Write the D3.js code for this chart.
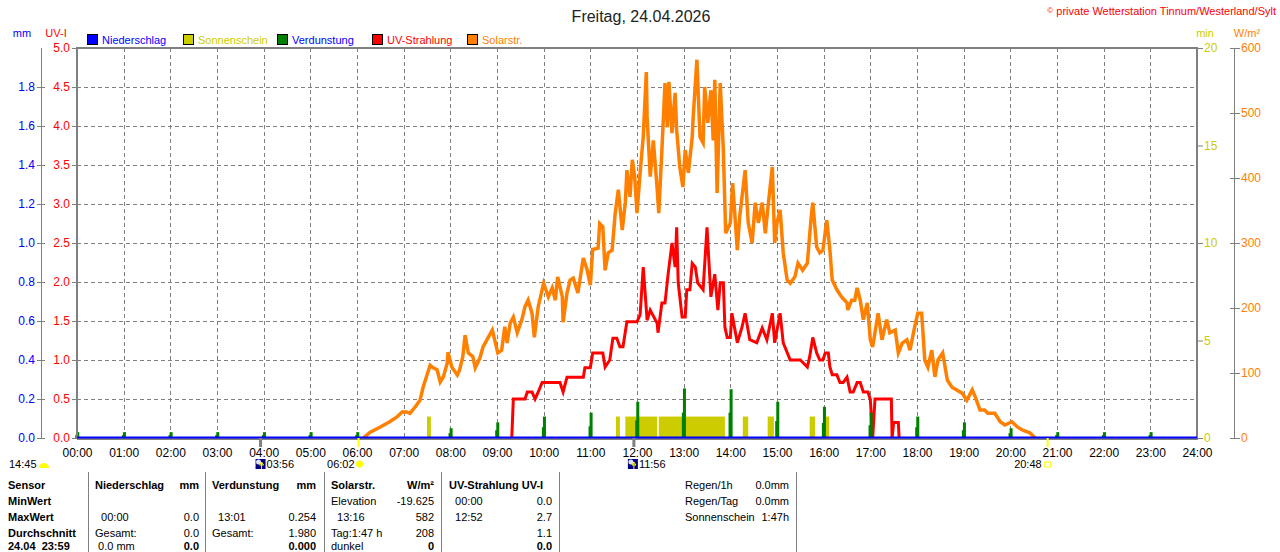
<!DOCTYPE html>
<html>
<head>
<meta charset="utf-8">
<script src="https://cdn.jsdelivr.net/npm/d3@7"></script>
<style>
body { margin: 0; background: #fff; }
svg { display: block; font-family: "Liberation Sans", Arial, sans-serif; font-size: 11px; }
text { white-space: pre; }
</style>
</head>
<body>
<svg id="chart" width="1280" height="552"></svg>
<script>
// ---- data (time in minutes of the day) ----
var hourTicks = d3.range(0, 1441, 60);
var uvTicks = d3.range(0, 5.01, 0.5);
var mmTicks = d3.range(0, 1.81, 0.2);
var minTicks = [0, 5, 10, 15, 20];
var solarTicks = [0, 100, 200, 300, 400, 500, 600];

var legendNames = ["Niederschlag", "Sonnenschein", "Verdunstung", "UV-Strahlung", "Solarstr."];

// Niederschlag mm
var rain = [[0, 0], [1440, 0]];

// Solarstrahlung W/m2
var solar = [
  [368,0],[377,9],[390,17],[402,25],[411,32],[418,40],[424,40],[428,38],[435,48],[441,58],
  [445,78],[450,97],[454,112],[458,108],[463,105],[467,86],[471,94],[476,115],[477,132],[482,109],
  [489,97],[492,105],[496,125],[499,158],[503,131],[509,125],[512,108],[518,123],[522,140],[527,151],
  [534,166],[537,151],[541,131],[546,135],[550,171],[553,146],[557,177],[561,186],[566,162],[572,182],
  [576,202],[580,212],[585,192],[588,155],[593,202],[598,228],[600,238],[606,217],[611,231],[615,212],
  [618,248],[624,217],[625,178],[630,223],[634,243],[638,246],[644,223],[651,277],[656,258],[660,235],
  [663,290],[670,292],[672,330],[676,325],[679,258],[683,285],[688,289],[692,346],[696,382],[701,320],
  [705,362],[707,412],[711,371],[714,428],[717,402],[720,346],[724,408],[728,463],[732,563],[733,494],
  [737,402],[741,458],[746,382],[748,346],[752,443],[756,546],[759,478],[761,548],[765,469],[769,531],
  [771,474],[775,417],[779,386],[782,443],[786,408],[791,463],[792,489],[797,582],[801,463],[805,454],
  [807,540],[811,485],[815,535],[818,458],[820,551],[823,377],[827,546],[831,443],[834,315],[840,331],
  [843,392],[849,289],[852,340],[859,412],[863,331],[868,300],[872,362],[876,331],[881,362],[885,315],
  [888,351],[894,417],[897,300],[900,331],[904,351],[908,285],[913,243],[917,238],[923,248],[927,269],
  [933,258],[939,269],[944,340],[946,362],[951,294],[955,285],[959,289],[964,335],[968,289],[971,243],
  [977,228],[983,217],[990,208],[991,197],[996,212],[1000,212],[1003,231],[1007,212],[1011,182],[1016,208],
  [1020,151],[1023,140],[1030,192],[1035,151],[1041,182],[1045,162],[1052,166],[1056,131],[1061,146],[1067,151],
  [1071,135],[1077,171],[1081,192],[1086,192],[1090,120],[1094,109],[1099,135],[1103,94],[1107,120],[1113,131],
  [1119,89],[1125,78],[1131,74],[1138,69],[1144,58],[1151,74],[1155,63],[1161,43],[1167,43],[1171,38],
  [1180,38],[1187,25],[1193,20],[1202,25],[1209,17],[1216,12],[1225,8],[1232,0]
];

// UV-Index
var uv = [
  [559,0],[561,0.5],[567,0.5],[576,0.5],[579,0.59],[585,0.59],[589,0.5],[593,0.59],[598,0.71],[621,0.71],
  [625,0.59],[630,0.78],[651,0.78],[653,0.9],[660,0.9],[663,1.09],[676,1.09],[679,0.91],[685,1.0],[689,1.28],
  [694,1.28],[698,1.17],[702,1.17],[707,1.49],[720,1.49],[724,1.58],[728,2.19],[733,1.51],[737,1.64],[746,1.47],
  [747,1.35],[752,1.73],[756,1.73],[760,2.1],[765,2.5],[769,2.19],[771,2.7],[773,1.99],[778,1.55],[782,1.55],
  [784,1.9],[788,1.9],[791,2.24],[795,2.19],[798,1.99],[805,1.9],[810,2.7],[815,1.81],[820,2.1],[824,1.64],
  [827,1.99],[831,1.99],[833,1.42],[836,1.29],[840,1.29],[842,1.6],[849,1.22],[855,1.42],[859,1.6],[865,1.26],
  [874,1.22],[881,1.41],[887,1.26],[894,1.6],[897,1.22],[904,1.6],[908,1.22],[917,1.0],[930,1.0],[939,0.91],
  [942,1.04],[946,1.29],[951,1.09],[955,1.0],[959,1.0],[962,1.09],[966,1.09],[968,0.91],[971,0.81],[977,0.81],
  [981,0.71],[985,0.71],[990,0.78],[994,0.59],[998,0.59],[1003,0.71],[1007,0.71],[1011,0.59],[1017,0.59],[1020,0.49],
  [1023,0],[1026,0.5],[1047,0.5],[1048,0],[1050,0.2],[1056,0.2],[1057,0]
];

// Sonnenschein: [von, bis, min]
var sunshine = [
  [450,455,1.1],[693,698,1.1],[705,746,1.1],[748,833,1.1],[856,863,1.1],
  [888,896,1.1],[942,949,1.1],[963,967,1.1]
];

// Verdunstung mm, hh:00 and hh:01
var evapHour = d3.range(0, 24);
var evap00 = [0.015,0.015,0.015,0.015,0.015,0.015,0.015,0.005,0.025,0.04,0.055,0.06,
              0.09,0.13,0.13,0.087,0.077,0.065,0.055,0.04,0.025,0.015,0.015,0.015];
var evap01 = [0.03,0.03,0.03,0.03,0.03,0.03,0.03,0.005,0.05,0.08,0.11,0.13,
              0.186,0.254,0.25,0.186,0.16,0.13,0.11,0.08,0.05,0.03,0.03,0.03];

// sun / moon times
var moonRise = 236, sunRise = 362, sunNoon = 716, sunSet = 1248;

// table texts
var sensorRows = ["Sensor", "MinWert", "MaxWert", "Durchschnitt", "24.04  23:59"];
var rainStats  = [["Niederschlag","mm"], ["",""], ["  00:00","0.0"], ["Gesamt:","0.0"], [" 0.0 mm","0.0"]];
var evapStats  = [["Verdunstung","mm"], ["",""], ["  13:01","0.254"], ["Gesamt:","1.980"], ["","0.000"]];
var solarStats = [["Solarstr.","W/m²"], ["Elevation","-19.625"], ["  13:16","582"], ["Tag:1:47 h","208"], ["dunkel","0"]];
var uvStats    = [["UV-Strahlung UV-I",""], ["  00:00","0.0"], ["  12:52","2.7"], ["","1.1"], ["","0.0"]];
var summary    = [["Regen/1h","0.0mm"], ["Regen/Tag","0.0mm"], ["Sonnenschein","1:47h"]];

var SITE = SITE || {};

SITE.chart = {
  init: function () {
    var C = { rain: "#0000ff", sun: "#cccc00", evap: "#008000", uv: "#ff0000", solar: "#ff8000", grid: "#808080" };
    var legendColors = [C.rain, C.sun, C.evap, C.uv, C.solar];
    var legendText = [C.rain, C.sun, C.rain, C.uv, C.solar];

    var svg = d3.select("#chart");

    var pL = 77, pR = 1197, pT = 48, pB = 438;

    var x = d3.scaleLinear().domain([0, 1440]).range([pL, pR]);
    var yUV = d3.scaleLinear().domain([0, 5]).range([pB, pT]);
    var yMM = d3.scaleLinear().domain([0, 2]).range([pB, pT]);
    var yMin = d3.scaleLinear().domain([0, 20]).range([pB, pT]);
    var ySol = d3.scaleLinear().domain([0, 600]).range([pB, pT]);

    // title
    svg.append("text").attr("x", 641).attr("y", 22).attr("text-anchor", "middle")
      .style("font-size", "16px").attr("fill", "#222").text("Freitag, 24.04.2026");

    var copy = svg.append("text").attr("x", 1276).attr("y", 15).attr("text-anchor", "end")
      .attr("fill", "#ff0000").style("font-size", "11px");
    copy.append("tspan").style("font-size", "8px").attr("dy", "-2").text("©");
    copy.append("tspan").attr("dy", "2").text(" private Wetterstation Tinnum/Westerland/Sylt");

    // unit labels
    svg.append("text").attr("x", 22).attr("y", 37).attr("text-anchor", "middle").attr("fill", C.rain).text("mm");
    svg.append("text").attr("x", 56).attr("y", 37).attr("text-anchor", "middle").attr("fill", C.uv).text("UV-I");
    svg.append("text").attr("x", 1205).attr("y", 37).attr("text-anchor", "middle").attr("fill", C.sun).text("min");
    svg.append("text").attr("x", 1247).attr("y", 37).attr("text-anchor", "middle").attr("fill", C.solar).text("W/m²");

    // legend
    var legendX = [87, 183, 277, 372, 467];
    var lg = svg.append("g").selectAll("g").data(legendNames).join("g")
      .attr("transform", function (d, i) { return "translate(" + legendX[i] + ",34)"; });
    lg.append("rect").attr("x", 0.5).attr("y", 0.5).attr("width", 10).attr("height", 10)
      .attr("fill", function (d, i) { return legendColors[i]; }).attr("stroke", "#000");
    lg.append("text").attr("x", 15).attr("y", 10)
      .attr("fill", function (d, i) { return legendText[i]; }).text(function (d) { return d; });

    // grid
    var grid = svg.append("g").attr("stroke", C.grid).attr("stroke-dasharray", "4,3").attr("stroke-width", 1);
    grid.selectAll("line.v").data(hourTicks.slice(1, -1)).join("line")
      .attr("x1", function (d) { return Math.round(x(d)) + 0.5; })
      .attr("x2", function (d) { return Math.round(x(d)) + 0.5; })
      .attr("y1", pT).attr("y2", pB);
    grid.selectAll("line.h").data(uvTicks.slice(1, -1)).join("line")
      .attr("x1", pL).attr("x2", pR)
      .attr("y1", function (d) { return Math.round(yUV(d)) + 0.5; })
      .attr("y2", function (d) { return Math.round(yUV(d)) + 0.5; });

    // axes
    function styleAxis(g, color) {
      g.select(".domain").remove();
      g.selectAll(".tick line").attr("stroke", C.grid);
      g.selectAll(".tick text").attr("fill", color)
        .style("font-family", '"Liberation Sans", Arial, sans-serif').style("font-size", "12px");
    }

    svg.append("line").attr("x1", 41.5).attr("x2", 41.5).attr("y1", pT).attr("y2", pB).attr("stroke", C.grid);
    svg.append("g").attr("transform", "translate(45,0)")
      .call(d3.axisLeft(yMM).tickValues(mmTicks).tickFormat(d3.format(".1f")).tickSize(8).tickPadding(2))
      .call(styleAxis, C.rain);

    svg.append("g").attr("transform", "translate(" + pL + ",0)")
      .call(d3.axisLeft(yUV).tickValues(uvTicks).tickFormat(d3.format(".1f")).tickSize(5).tickPadding(2))
      .call(styleAxis, C.uv);

    svg.append("g").attr("transform", "translate(" + pR + ",0)")
      .call(d3.axisRight(yMin).tickValues(minTicks).tickSize(6).tickPadding(1))
      .call(styleAxis, C.sun);

    svg.append("line").attr("x1", 1234.5).attr("x2", 1234.5).attr("y1", pT).attr("y2", pB).attr("stroke", C.grid);
    svg.append("g").attr("transform", "translate(1230,0)")
      .call(d3.axisRight(ySol).tickValues(solarTicks).tickSize(10).tickPadding(1))
      .call(styleAxis, C.solar);

    svg.append("g").attr("transform", "translate(0," + pB + ")")
      .call(d3.axisBottom(x).tickValues(hourTicks).tickSize(0).tickPadding(10)
        .tickFormat(function (d) { return d3.format("02")(d / 60) + ":00"; }))
      .call(styleAxis, "#000");

    // series
    svg.append("path").datum(solar)
      .attr("fill", "none").attr("stroke", C.solar).attr("stroke-width", 3.5).attr("stroke-linejoin", "miter")
      .attr("d", d3.line().x(function (d) { return x(d[0]); }).y(function (d) { return ySol(d[1]); }));

    svg.append("path").datum(uv)
      .attr("fill", "none").attr("stroke", C.uv).attr("stroke-width", 3)
      .attr("d", d3.line().x(function (d) { return x(d[0]); }).y(function (d) { return yUV(d[1]); }));

    svg.append("g").selectAll("rect").data(sunshine).join("rect")
      .attr("x", function (d) { return x(d[0]); })
      .attr("width", function (d) { return x(d[1]) - x(d[0]); })
      .attr("y", function (d) { return yMin(d[2]); })
      .attr("height", function (d) { return pB - yMin(d[2]); })
      .attr("fill", C.sun);

    var ev = svg.append("g").attr("fill", C.evap);
    ev.selectAll("rect.a").data(evapHour).join("rect")
      .attr("x", function (d) { return x(d * 60) - 1.8; }).attr("width", 3)
      .attr("y", function (d, i) { return yMM(evap00[i]); })
      .attr("height", function (d, i) { return pB - yMM(evap00[i]); });
    ev.selectAll("rect.b").data(evapHour).join("rect")
      .attr("x", function (d) { return x(d * 60 + 1) - 1.5; }).attr("width", 3)
      .attr("y", function (d, i) { return yMM(evap01[i]); })
      .attr("height", function (d, i) { return pB - yMM(evap01[i]); });

    // frame
    svg.append("path").attr("fill", "none").attr("stroke", C.grid).attr("stroke-width", 2)
      .attr("d", "M" + pL + "," + (pB + 1) + "V" + pT + "H" + pR + "V" + (pB + 1) + "H" + pL);

    svg.append("path").datum(rain)
      .attr("fill", "none").attr("stroke", C.rain).attr("stroke-width", 2)
      .attr("d", d3.line().x(function (d) { return x(d[0]); }).y(function (d) { return yMM(d[1]) - 0.5; }));

    // sun / moon markers
    var mk = svg.append("g");
    [[moonRise, C.grid, 3], [sunNoon, C.grid, 3], [sunRise, "#ffff00", 2], [sunSet, "#ffff00", 2]].forEach(function (m) {
      mk.append("rect").attr("x", x(m[0]) - m[2] / 2).attr("y", pB).attr("width", m[2]).attr("height", 9).attr("fill", m[1]);
    });

    var rowY = 468;
    mk.append("text").attr("x", 9).attr("y", rowY).text("14:45");
    mk.append("path").attr("d", "M39," + rowY + "a5,5 0 0,1 10,0z").attr("fill", "#ffff00");

    function moonIcon(cx) {
      mk.append("rect").attr("x", cx).attr("y", rowY - 9).attr("width", 10).attr("height", 10).attr("fill", "#000080");
      mk.append("circle").attr("cx", cx + 3).attr("cy", rowY - 6).attr("r", 2.5).attr("fill", "#e0e0ff");
      mk.append("path").attr("d", "M" + (cx + 6) + "," + (rowY + 1) + "v-7l-2,3h4l-2,-3").attr("stroke", "#ffff00").attr("fill", "none");
    }
    moonIcon(x(moonRise) - 5);
    mk.append("text").attr("x", x(moonRise) + 6).attr("y", rowY).text("03:56");

    mk.append("text").attr("x", x(sunRise) - 4).attr("y", rowY).attr("text-anchor", "end").text("06:02");
    mk.append("circle").attr("cx", x(sunRise) + 1).attr("cy", rowY - 4).attr("r", 3.5).attr("fill", "#ffff00");

    moonIcon(x(sunNoon) - 6);
    mk.append("text").attr("x", x(sunNoon) + 5).attr("y", rowY).text("11:56");

    mk.append("text").attr("x", x(sunSet) - 6).attr("y", rowY).attr("text-anchor", "end").text("20:48");
    mk.append("rect").attr("x", x(sunSet) - 3).attr("y", rowY - 6).attr("width", 6).attr("height", 5)
      .attr("fill", "none").attr("stroke", "#ffff00");

    // statistics table
    var tableRowY = [489, 505, 521, 537, 550];
    var tb = svg.append("g");
    [88, 205, 324, 441, 559, 796].forEach(function (sx) {
      tb.append("line").attr("x1", sx + 0.5).attr("x2", sx + 0.5).attr("y1", 472).attr("y2", 552).attr("stroke", C.grid);
    });

    tb.selectAll("text.s").data(sensorRows).join("text")
      .attr("x", 8).attr("y", function (d, i) { return tableRowY[i]; })
      .style("font-weight", "bold").text(function (d) { return d; });

    function statColumn(rows, lx, rx) {
      rows.forEach(function (r, i) {
        var head = i === 0, last = i === 4;
        tb.append("text").attr("x", lx).attr("y", tableRowY[i])
          .style("font-weight", head ? "bold" : "normal").text(r[0]);
        tb.append("text").attr("x", rx).attr("y", tableRowY[i]).attr("text-anchor", "end")
          .style("font-weight", head || last ? "bold" : "normal").text(r[1]);
      });
    }
    statColumn(rainStats, 95, 199);
    statColumn(evapStats, 212, 316);
    statColumn(solarStats, 331, 434);
    statColumn(uvStats, 449, 552);

    summary.forEach(function (r, i) {
      tb.append("text").attr("x", 685).attr("y", tableRowY[i]).text(r[0]);
      tb.append("text").attr("x", 789).attr("y", tableRowY[i]).attr("text-anchor", "end").text(r[1]);
    });
  }
};

SITE.chart.init();
</script>
</body>
</html>
